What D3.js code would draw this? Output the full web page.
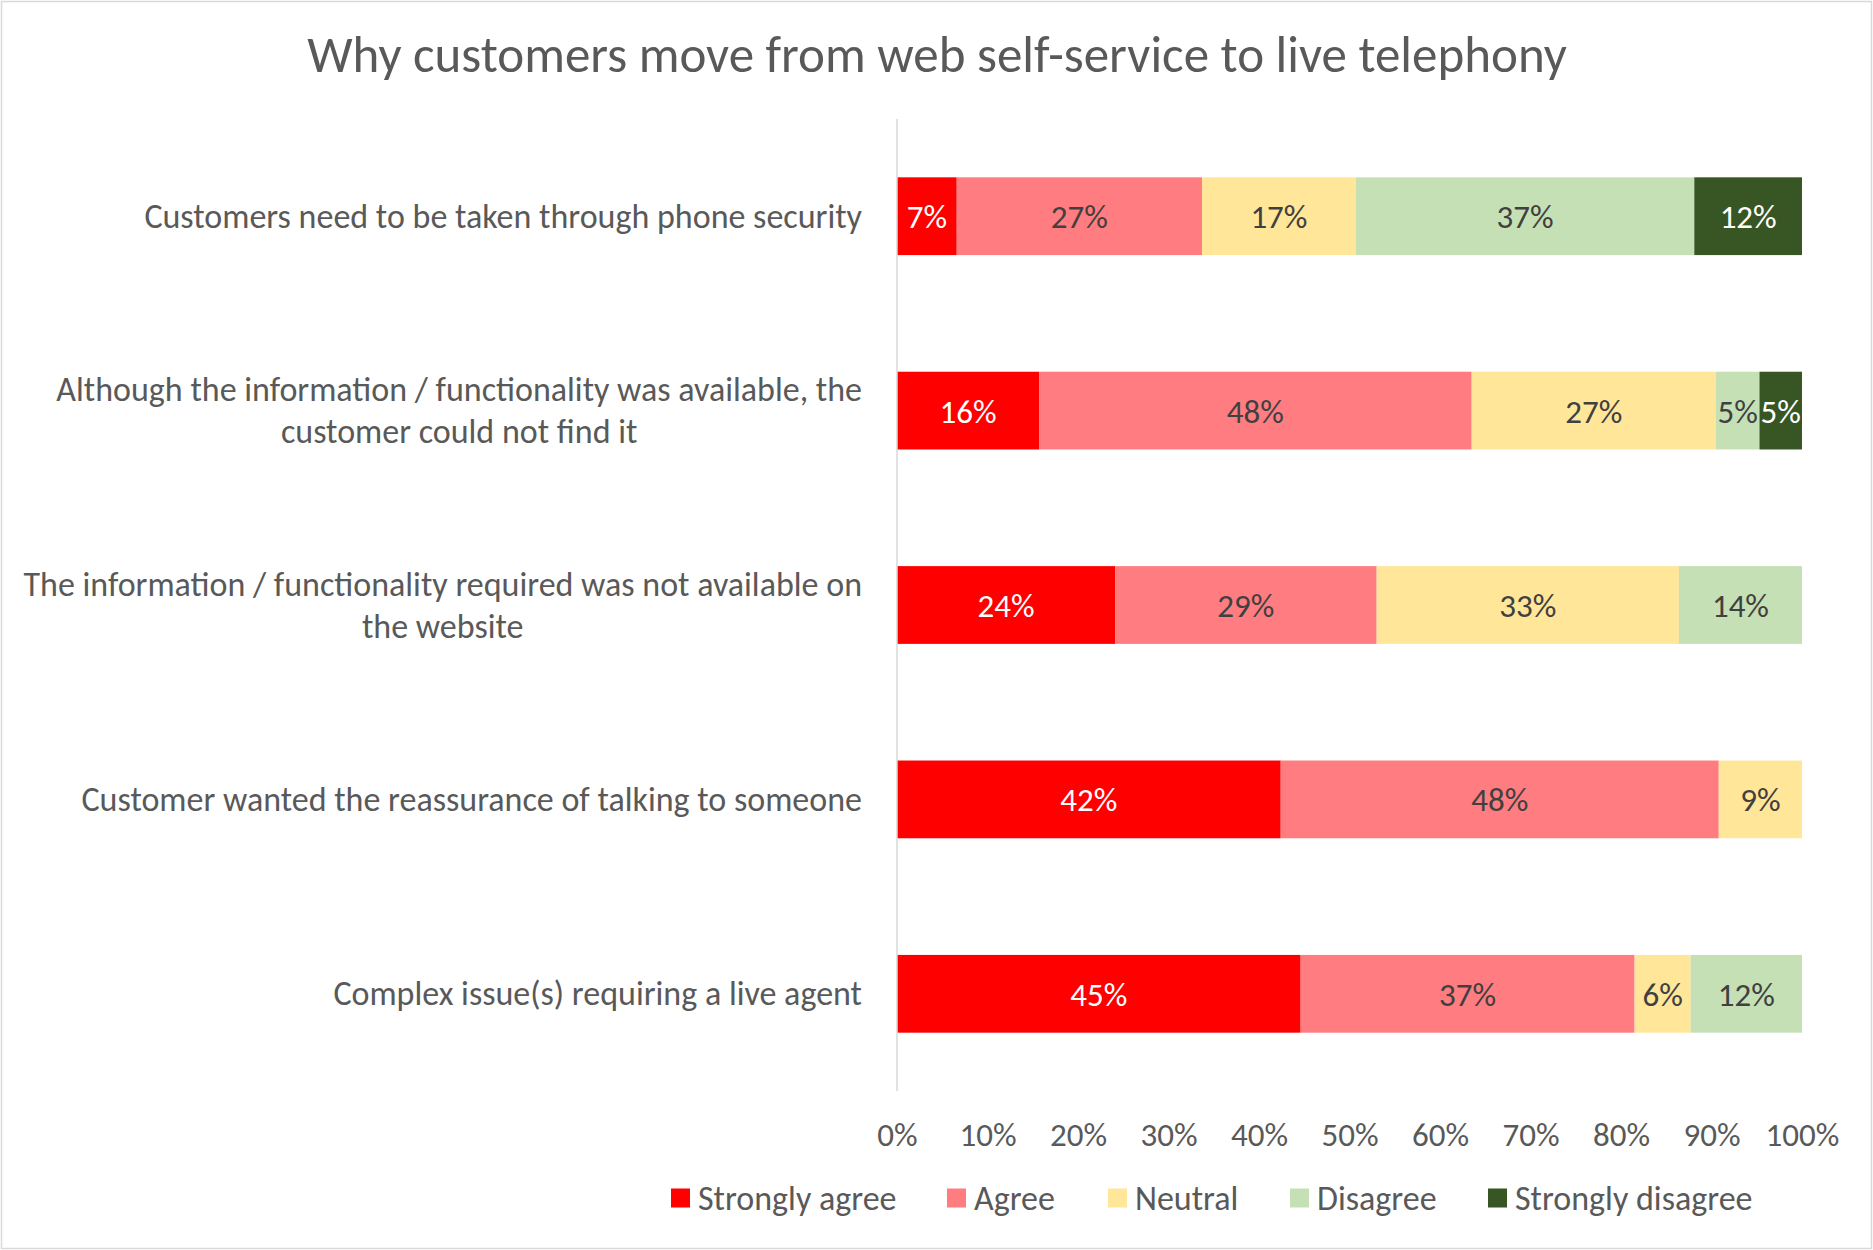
<!DOCTYPE html>
<html>
<head>
<meta charset="utf-8">
<script src="https://cdn.jsdelivr.net/npm/d3@7"></script>
<style>
  html, body { margin: 0; padding: 0; background: #fff; }
  svg { display: block; }
  text { font-family: Carlito, Lato, "Open Sans", sans-serif; fill: #595959; }
</style>
</head>
<body>
<svg id="chart" width="1873" height="1250"></svg>
<script>
// ---- data ----
const title = "Why customers move from web self-service to live telephony";
const categories = [
  ["Customers need to be taken through phone security"],
  ["Although the information / functionality was available, the", "customer could not find it"],
  ["The information / functionality required was not available on", "the website"],
  ["Customer wanted the reassurance of talking to someone"],
  ["Complex issue(s) requiring a live agent"]
];
const seriesNames = ["Strongly agree", "Agree", "Neutral", "Disagree", "Strongly disagree"];
const stronglyAgree    = [6.6, 15.7, 24.1, 42.4, 44.6];
const agree            = [27.1, 47.8, 28.9, 48.4, 36.9];
const neutral          = [17.0, 27.0, 33.4, 9.2, 6.2];
const disagree         = [37.4, 4.8, 13.6, 0, 12.3];
const stronglyDisagree = [11.9, 4.7, 0, 0, 0];
const tickValues = [0, 0.1, 0.2, 0.3, 0.4, 0.5, 0.6, 0.7, 0.8, 0.9, 1.0];

const colors = ["#FF0000", "#FF7C80", "#FFE699", "#C5E0B4", "#375623"];
const labelColors = ["#FFFFFF", "#404040", "#404040", "#404040", "#FFFFFF"];

// ---- build table ----
const seriesValues = [stronglyAgree, agree, neutral, disagree, stronglyDisagree];
const rows = categories.map((c, i) => {
  const r = { key: i };
  seriesNames.forEach((s, j) => r[s] = seriesValues[j][i]);
  return r;
});
const stacked = d3.stack().keys(seriesNames).offset(d3.stackOffsetExpand)(rows);

const svg = d3.select("#chart");
const W = 1873, H = 1250;

// border
svg.append("rect").attr("x", 1.5).attr("y", 1.5).attr("width", W - 3).attr("height", H - 3)
  .attr("fill", "#fff").attr("stroke", "#d9d9d9").attr("stroke-width", 1.5);

// title
svg.append("text").attr("x", 937).attr("y", 54).attr("text-anchor", "middle")
  .attr("dominant-baseline", "central").style("font-size", "51px").text(title);

const x = d3.scaleLinear().domain([0, 1]).range([897, 1802]);
const y = d3.scaleBand().domain(d3.range(categories.length)).range([119, 1091])
  .paddingInner(0.6).paddingOuter(0.3);

// bars
const g = svg.append("g");
stacked.forEach((layer, j) => {
  layer.forEach((d, i) => {
    const v = seriesValues[j][i];
    if (!v) return;
    g.append("rect")
      .attr("x", x(d[0])).attr("y", y(i))
      .attr("width", x(d[1]) - x(d[0])).attr("height", y.bandwidth())
      .attr("fill", colors[j]);
  });
});
// labels in bars
stacked.forEach((layer, j) => {
  layer.forEach((d, i) => {
    const v = seriesValues[j][i];
    if (!v) return;
    g.append("text")
      .attr("x", (x(d[0]) + x(d[1])) / 2).attr("y", y(i) + y.bandwidth() / 2 + 1)
      .attr("text-anchor", "middle").attr("dominant-baseline", "central")
      .style("font-size", "33px").style("fill", labelColors[j])
      .text(Math.round((d[1] - d[0]) * 100) + "%");
  });
});

// vertical axis line
svg.append("line").attr("x1", x(0)).attr("x2", x(0)).attr("y1", 119).attr("y2", 1091)
  .attr("stroke", "#d9d9d9").attr("stroke-width", 1.5);

// category labels
const labelRight = 862;
categories.forEach((lines, i) => {
  const cy = y(i) + y.bandwidth() / 2;
  const lh = 42;
  const texts = lines.map((l, k) => svg.append("text")
    .attr("y", cy + (k - (lines.length - 1) / 2) * lh)
    .attr("dominant-baseline", "central").attr("text-anchor", "middle")
    .style("font-size", "34px").text(l));
  const maxW = d3.max(texts, t => t.node().getComputedTextLength());
  texts.forEach(t => t.attr("x", labelRight - maxW / 2));
});

// x axis
const xAxis = d3.axisBottom(x).tickValues(tickValues).tickFormat(d3.format(".0%")).tickSize(0).tickPadding(0);
const ax = svg.append("g").attr("transform", "translate(0,1135)").call(xAxis);
ax.select(".domain").remove();
ax.selectAll("text").attr("dy", null).attr("y", 0).attr("dominant-baseline", "central")
  .style("font-size", "33px").style("font-family", null).attr("fill", null);

// legend
const legendX = [671, 947, 1108, 1290, 1488];
const legend = svg.append("g");
seriesNames.forEach((s, j) => {
  legend.append("rect").attr("x", legendX[j]).attr("y", 1198 - 9.5).attr("width", 19).attr("height", 19)
    .attr("fill", colors[j]);
  legend.append("text").attr("x", legendX[j] + 27).attr("y", 1198)
    .attr("dominant-baseline", "central").style("font-size", "34px").text(s);
});
</script>
</body>
</html>
